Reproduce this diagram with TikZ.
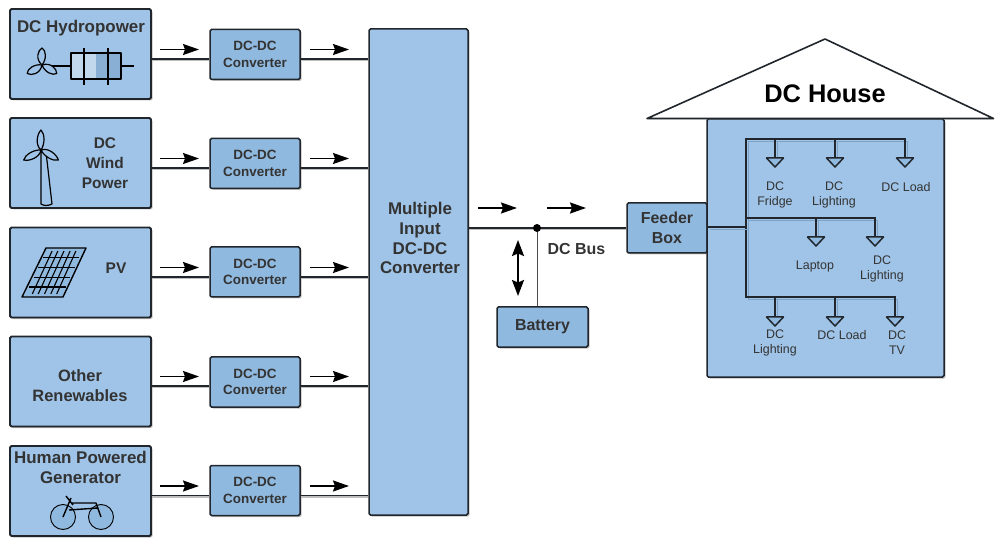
\documentclass[tikz,border=0pt]{standalone}
\usepackage{fontspec}
\setmainfont{Liberation Sans}
\usetikzlibrary{arrows.meta,shadows}
\definecolor{boxblue}{HTML}{9FC4E7}
\definecolor{convblue}{HTML}{90B9DF}
\definecolor{edgedark}{HTML}{20262C}
\tikzset{
    boxshadow/.style={drop shadow={shadow xshift=1.5bp,shadow yshift=-1.5bp,fill=black!45,opacity=.55}},
    srcbox/.style={draw=edgedark, line width=1.9bp, rounded corners=1.5bp, fill=boxblue, boxshadow, minimum width=141bp, minimum height=90bp, inner sep=0pt},
    convbox/.style={draw=edgedark, line width=1.5bp, rounded corners=1.5bp, fill=convblue, boxshadow, minimum width=90bp, minimum height=50bp, inner sep=0pt, align=center, text=black!80, font=\bfseries\fontsize{13.5}{16.5}\selectfont},
    srctext/.style={align=center, inner sep=0pt, text=black!80, font=\bfseries\fontsize{15.5}{20}\selectfont},
    loadtext/.style={align=center, inner sep=0pt, text=black!80, font=\fontsize{12.5}{15}\selectfont},
    busline/.style={draw=edgedark, line width=1.4bp, preaction={draw=black!25, line width=1.6bp, transform canvas={yshift=-1.6bp}}},
    flowarrow/.style={line width=1.8bp, -{Stealth[length=16bp,width=11bp,inset=2bp]}},
    icon/.style={draw=black, line width=1.2bp, line join=round},
    loadtip/.style={draw=edgedark, line width=1.5bp, fill=convblue, line join=round},
    homeline/.style={draw=edgedark, line width=1.7bp, preaction={draw=convblue!88!black, line width=1.2bp, transform canvas={xshift=2.5bp,yshift=-2.5bp}}},
}
\begin{document}
\begin{tikzpicture}[x=1bp, y=-1bp]
    \useasboundingbox (0,0) rectangle (995,539);

    % Источники
    \foreach \n/\y in {1/54,2/163,3/272.5,4/381.5,5/491}
        \node[srcbox] (src\n) at (80.5,\y) {};

    % Преобразователи и линии
    \node[srcbox, minimum width=99bp, minimum height=486bp, line width=1.5bp] (multi) at (418.5,272) {};
    \foreach \n/\y/\l in {1/54.5/59,2/163.5/168,3/272/277,4/382/386,5/490.5/495.5} {
        \node[convbox] (conv\n) at (255,\y) {DC-DC\\Converter};
        \coordinate (lvl\n) at (0,\l);
        \draw[busline] (src\n.east |- lvl\n) -- (conv\n.west |- lvl\n);
        \draw[busline] (conv\n.east |- lvl\n) -- (multi.west |- lvl\n);
        \coordinate (inA\n) at (160,\l-9.5);
        \coordinate (inB\n) at (199,\l-9.5);
        \coordinate (outA\n) at (310,\l-9.5);
        \coordinate (outB\n) at (349,\l-9.5);
        \draw[flowarrow] (inA\n) -- (inB\n);
        \draw[flowarrow] (outA\n) -- (outB\n);
    }

    % Подписи источников
    \node[srctext, font=\bfseries\fontsize{17}{20}\selectfont] (hydrotext) at (81,28) {DC Hydropower};
    \node[srctext] (windtext) at (105,163) {DC\\Wind\\Power};
    \node[srctext] (pvtext) at (116,268) {PV};
    \node[srctext, font=\bfseries\fontsize{16.5}{20}\selectfont] (othertext) at (80,385.5) {Other\\Renewables};
    \node[srctext, font=\bfseries\fontsize{17}{20}\selectfont] (humantext) at (80.5,467) {Human Powered\\Generator};
    \node[srctext, font=\bfseries\fontsize{17}{20}\selectfont] (multitext) at (420,238) {Multiple\\Input\\DC-DC\\Converter};

    % Гидротурбина
    \fill[convblue!55!white] (71,53) rectangle (96,79);
    \fill[convblue!95!black] (96,53) rectangle (121,79);
    \draw[icon] (71,53) rectangle (121,79);
    \draw[icon] (84,48) -- (84,85) (108,48) -- (108,85);
    \draw[icon] (50,66) -- (71,66) (121,66) -- (134,66);
    \begin{scope}[shift={(42,65)}]
        \foreach \a in {0,120,240}
            \draw[icon, rotate=\a, fill=boxblue] (0,0) .. controls (-7,-6) and (-4,-15) .. (0,-17) .. controls (4,-15) and (5,-6) .. (0,0);
    \end{scope}

    % Ветряк
    \draw[icon, fill=boxblue] (41,152) -- (46,152) -- (52,204) .. controls (48,206) and (44,206) .. (41,204) -- cycle;
    \begin{scope}[shift={(41,150)}]
        \foreach \a in {0,120,240}
            \draw[icon, rotate=\a, fill=boxblue] (0,0) .. controls (-6,-5) and (-4,-16) .. (0,-20) .. controls (4,-16) and (4,-6) .. (0,0);
    \end{scope}

    % Панель
    \draw[icon, line width=1.4bp, fill=convblue] (46,248) -- (86,248) -- (63,297) -- (22,297) -- cycle;
    \foreach \t in {0.17,0.33,0.5,0.67,0.83}
        \draw[icon, line width=1.1bp] ({46+\t*36},251) -- ({26+\t*37},294);
    \foreach \t in {0.2,0.4,0.6,0.8}
        \draw[icon, line width=1.4bp] ({46-\t*24+2},{248+\t*49}) -- ({86-\t*23-2},{248+\t*49});

    % Велосипед
    \draw[icon, line width=.9bp, fill=convblue] (63,517) circle (12.5);
    \draw[icon, line width=.9bp, fill=convblue] (101,517) circle (12.5);
    \draw[icon, line width=1.4bp] (63,517) -- (71,498) (66,496) -- (73,505) (71,503) -- (96,503) -- (101,517) (69,510) -- (98,508);

    % Шина
    \node[srcbox, minimum width=91bp, minimum height=40bp, fill=convblue, line width=1.5bp, text=black!80, font=\bfseries\fontsize{16}{20}\selectfont] (battery) at (542.5,327) {Battery};
    \node[srcbox, minimum width=80bp, minimum height=50bp, fill=convblue, line width=1.5bp, align=center, text=black!80, font=\bfseries\fontsize{16}{20}\selectfont] (feeder) at (667,228) {Feeder\\Box};
    \coordinate (dotbus) at (537,228);
    \draw[busline] (multi.east |- dotbus) -- (feeder.west |- dotbus);
    \draw[draw=black!70, line width=1bp] (dotbus) -- (dotbus |- battery.north);
    \fill[black] (dotbus) circle (4);
    \node[srctext, font=\bfseries\fontsize{16}{20}\selectfont] (bustext) at (576.5,249.5) {DC Bus};
    \coordinate (flowA) at (478,208);
    \coordinate (flowB) at (517,208);
    \coordinate (flowC) at (547,208);
    \coordinate (flowD) at (586,208);
    \draw[flowarrow] (flowA) -- (flowB);
    \draw[flowarrow] (flowC) -- (flowD);
    \coordinate (twoA) at (518,240);
    \coordinate (twoB) at (518,296);
    \draw[line width=2bp, {Stealth[length=16bp,width=12bp,inset=2.5bp]}-{Stealth[length=16bp,width=12bp,inset=2.5bp]}] (twoA) -- (twoB);

    % Дом
    \node[srcbox, minimum width=237bp, minimum height=258bp, line width=1.5bp] (house) at (825.5,248) {};
    \draw[draw=edgedark, line width=1.6bp, fill=white, line join=round, drop shadow={shadow xshift=1bp,shadow yshift=-1bp,fill=black!35,opacity=.5}] (647,118.5) -- (825,39) -- (993.5,118.5) -- cycle;
    \node[inner sep=0pt, font=\bfseries\fontsize{25.5}{28}\selectfont] (housetext) at (825,94) {DC House};

    % Нагрузки
    \coordinate (rowA) at (0,139);
    \coordinate (rowB) at (0,218);
    \coordinate (rowC) at (0,297);
    \coordinate (mainbus) at (746,227);
    \draw[homeline] (905,158) -- (905,139) -- (746,139) -- (746,297) -- (895,297) -- (895,317);
    \draw[homeline] (746,218) -- (875,218) -- (875,237);
    \draw[homeline] (feeder.east |- mainbus) -- (mainbus);
    \foreach \x/\r/\t in {775/rowA/158,835/rowA/158,816/rowB/237,775/rowC/317,835/rowC/317}
        \draw[homeline] (\x,0 |- \r) -- (\x,\t);
    \foreach \x/\t in {775/158,835/158,905/158,816/237,875/237,775/317,835/317,895/317}
        \draw[loadtip] (\x-8.5,\t) -- (\x+8.5,\t) -- (\x,\t+9) -- cycle;

    \node[loadtext] (fridge) at (775,194.5) {DC\\Fridge};
    \node[loadtext] (lightA) at (834,194.5) {DC\\Lighting};
    \node[loadtext] (loadA) at (906,187) {DC Load};
    \node[loadtext] (laptop) at (815,267) {Laptop};
    \node[loadtext] (lightB) at (882,268.5) {DC\\Lighting};
    \node[loadtext] (lightC) at (775,342.5) {DC\\Lighting};
    \node[loadtext] (loadB) at (842,335) {DC Load};
    \node[loadtext] (tvload) at (897,342.5) {DC\\TV};
\end{tikzpicture}
\end{document}
